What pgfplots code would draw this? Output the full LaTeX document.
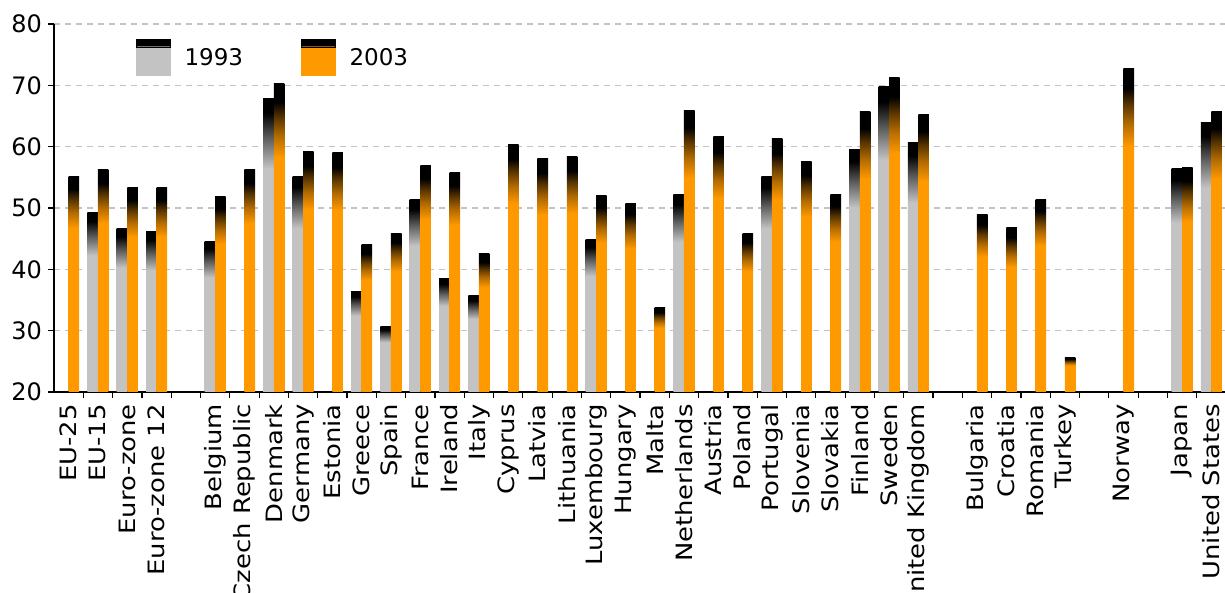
\documentclass[border=0pt]{standalone}
\usepackage{fontspec}
\setmainfont{DejaVu Sans}
\newfontfamily\xlabfont{DejaVu Sans}[FakeStretch=1.15]
\usepackage{pgfplots}
\pgfplotsset{compat=1.18}

\definecolor{barGrey}{RGB}{195,195,195}
\definecolor{barOrange}{RGB}{255,153,0}
\definecolor{gridGrey}{RGB}{195,195,195}

% bar shadings: the middle 25bp..75bp is the bar, so 75bp is the top
\pgfdeclareverticalshading{greybar}{100bp}{color(0bp)=(barGrey); color(63bp)=(barGrey); color(68bp)=(black!50!barGrey); color(72.5bp)=(black); color(100bp)=(black)}
\pgfdeclareverticalshading{orangebar}{100bp}{color(0bp)=(barOrange); color(63bp)=(barOrange); color(66.5bp)=(barOrange!70!black); color(69.5bp)=(barOrange!35!black); color(72bp)=(black); color(100bp)=(black)}

% one \addplot per bar, so that each bar gets its own shading
\pgfplotsset{
  b93/.style={ybar, bar width=0.36, bar shift=-0.18, draw=none, shade, shading=greybar, forget plot},
  b03/.style={ybar, bar width=0.36, bar shift=0.18, draw=none, shade, shading=orangebar, forget plot},
}

\begin{document}
\begin{tikzpicture}
\useasboundingbox (-54pt,-201pt) rectangle (1171pt,392pt);
\clip (-54pt,-201pt) rectangle (1171pt,392pt);
\begin{axis}[
  at={(0pt,0pt)}, anchor=south west,
  scale only axis, width=1172pt, height=368pt,
  xmin=-0.5, xmax=39.5, ymin=20, ymax=80,
  y coord trafo/.code={\pgfmathparse{#1-20}},
  y coord inv trafo/.code={\pgfmathparse{#1+20}},
  axis lines=left,
  axis line style={-, black, line width=1.5pt},
  ytick={20,30,40,50,60,70,80},
  yticklabels={20,30,40,50,60,70,80},
  ymajorgrids,
  major grid style={gridGrey, dash pattern=on 6pt off 5pt, line width=1.2pt},
  tick align=outside,
  major tick length=6pt, minor tick length=6pt,
  ytick style={black, line width=1.2pt},
  xtick={0,...,39},
  minor xtick={0.5,1.5,...,38.5},
  major x tick style={draw=none},
  minor x tick style={black, line width=1.2pt},
  xticklabels={EU-25,EU-15,Euro-zone,Euro-zone 12,{},Belgium,Czech Republic,Denmark,Germany,Estonia,Greece,Spain,France,Ireland,Italy,Cyprus,Latvia,Lithuania,Luxembourg,Hungary,Malta,Netherlands,Austria,Poland,Portugal,Slovenia,Slovakia,Finland,Sweden,United Kingdom,{},Bulgaria,Croatia,Romania,Turkey,{},Norway,{},Japan,United States},
  xticklabel style={font=\xlabfont\fontsize{22.5pt}{26pt}\selectfont, rotate=90, anchor=east, inner sep=0pt},
  xticklabel shift=6pt,
  yticklabel style={font=\fontsize{24pt}{28pt}\selectfont, inner sep=0pt, anchor=east},
  yticklabel shift=6pt,
  legend style={draw=none, fill=none, at={(0.0674,0.965)}, anchor=north west,
    font=\fontsize{23pt}{27pt}\selectfont, nodes={inner sep=0pt},
    /tikz/every odd column/.append style={column sep=14pt},
    /tikz/every even column/.append style={column sep=58pt}},
  legend columns=2,
  legend cell align=left,
]
% 1993
\addplot[b93] coordinates {(1,49.3)};
\addplot[b93] coordinates {(2,46.7)};
\addplot[b93] coordinates {(3,46.1)};
\addplot[b93] coordinates {(5,44.6)};
\addplot[b93] coordinates {(7,67.9)};
\addplot[b93] coordinates {(8,55.2)};
\addplot[b93] coordinates {(10,36.4)};
\addplot[b93] coordinates {(11,30.7)};
\addplot[b93] coordinates {(12,51.4)};
\addplot[b93] coordinates {(13,38.5)};
\addplot[b93] coordinates {(14,35.7)};
\addplot[b93] coordinates {(18,44.9)};
\addplot[b93] coordinates {(21,52.2)};
\addplot[b93] coordinates {(24,55.1)};
\addplot[b93] coordinates {(27,59.6)};
\addplot[b93] coordinates {(28,69.8)};
\addplot[b93] coordinates {(29,60.6)};
\addplot[b93] coordinates {(38,56.4)};
\addplot[b93] coordinates {(39,63.9)};
% 2003
\addplot[b03] coordinates {(0,55.2)};
\addplot[b03] coordinates {(1,56.2)};
\addplot[b03] coordinates {(2,53.3)};
\addplot[b03] coordinates {(3,53.3)};
\addplot[b03] coordinates {(5,51.8)};
\addplot[b03] coordinates {(6,56.2)};
\addplot[b03] coordinates {(7,70.3)};
\addplot[b03] coordinates {(8,59.2)};
\addplot[b03] coordinates {(9,59.0)};
\addplot[b03] coordinates {(10,44.0)};
\addplot[b03] coordinates {(11,45.9)};
\addplot[b03] coordinates {(12,57.0)};
\addplot[b03] coordinates {(13,55.8)};
\addplot[b03] coordinates {(14,42.5)};
\addplot[b03] coordinates {(15,60.4)};
\addplot[b03] coordinates {(16,58.0)};
\addplot[b03] coordinates {(17,58.4)};
\addplot[b03] coordinates {(18,52.0)};
\addplot[b03] coordinates {(19,50.8)};
\addplot[b03] coordinates {(20,33.8)};
\addplot[b03] coordinates {(21,65.9)};
\addplot[b03] coordinates {(22,61.6)};
\addplot[b03] coordinates {(23,45.9)};
\addplot[b03] coordinates {(24,61.4)};
\addplot[b03] coordinates {(25,57.6)};
\addplot[b03] coordinates {(26,52.2)};
\addplot[b03] coordinates {(27,65.7)};
\addplot[b03] coordinates {(28,71.2)};
\addplot[b03] coordinates {(29,65.2)};
\addplot[b03] coordinates {(31,49.0)};
\addplot[b03] coordinates {(32,46.8)};
\addplot[b03] coordinates {(33,51.4)};
\addplot[b03] coordinates {(34,25.7)};
\addplot[b03] coordinates {(36,72.7)};
\addplot[b03] coordinates {(38,56.6)};
\addplot[b03] coordinates {(39,65.7)};
\addlegendimage{legend image code/.code={
  \fill[barGrey] (0pt,-18pt) rectangle (34pt,12pt);
  \shade[top color=black, bottom color=barGrey] (0pt,10pt) rectangle (34pt,13pt);
  \fill[black] (0pt,12.5pt) rectangle (34pt,18pt);}}
\addlegendentry{1993}
\addlegendimage{legend image code/.code={
  \fill[barOrange] (0pt,-18pt) rectangle (34pt,12pt);
  \shade[top color=black, bottom color=barOrange] (0pt,10pt) rectangle (34pt,13pt);
  \fill[black] (0pt,12.5pt) rectangle (34pt,18pt);}}
\addlegendentry{2003}
\end{axis}
\end{tikzpicture}
\end{document}
